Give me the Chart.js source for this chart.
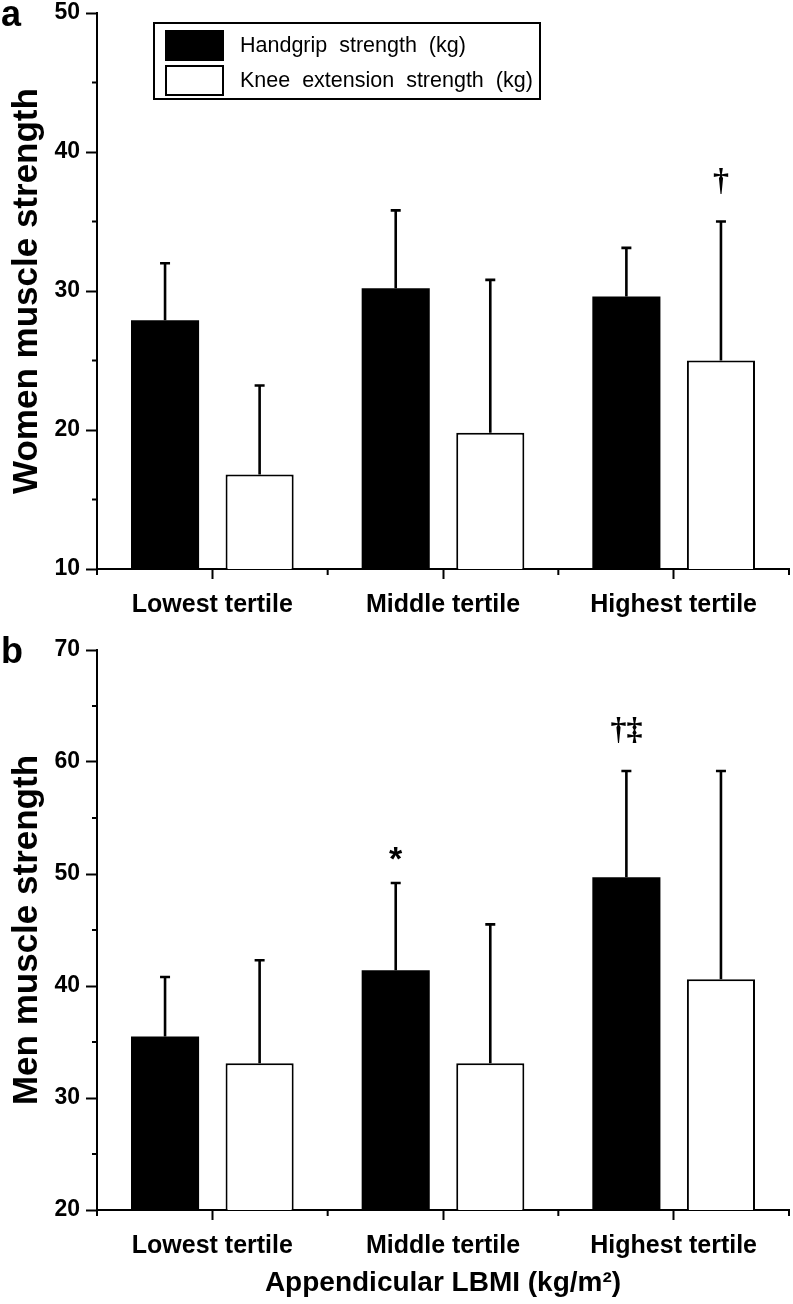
<!DOCTYPE html>
<html>
<head>
<meta charset="utf-8">
<script src="https://cdn.jsdelivr.net/npm/chart.js@4.4.1/dist/chart.umd.min.js"></script>
<style>
html, body { margin: 0; padding: 0; background: #fff; }
#wrap { position: relative; width: 793px; height: 1304px; overflow: hidden; }
canvas { position: absolute; left: 0; }
</style>
</head>
<body>
<div id="wrap">
  <canvas id="chartA" width="793" height="637" style="top:-7px"></canvas>
  <canvas id="chartB" width="793" height="674" style="top:630px"></canvas>
</div>
<script>
// ─── DATA ───
const tertiles = ['Lowest tertile', 'Middle tertile', 'Highest tertile'];
const seriesNames = ['Handgrip  strength  (kg)', 'Knee  extension  strength  (kg)'];

// women (panel a): means and SD (upper error only)
const womenGrip = [27.9, 30.2, 29.6];
const womenGripSD = [4.1, 5.6, 3.5];
const womenKnee = [16.8, 19.8, 25.0];
const womenKneeSD = [6.4, 11.0, 10.0];
const womenGripMarks = ['', '', ''];
const womenKneeMarks = ['', '', '†'];

// men (panel b)
const menGrip = [35.5, 41.4, 49.7];
const menGripSD = [5.3, 7.8, 9.5];
const menKnee = [33.1, 33.1, 40.6];
const menKneeSD = [9.2, 12.4, 18.6];
const menGripMarks = ['', '*', '†‡'];
const menKneeMarks = ['', '', ''];

const womenTicks = [10, 50, 10];   // min, max, step
const menTicks = [20, 70, 10];

const BOLD = "'Liberation Sans', Arial, sans-serif";
const REG = "'Liberation Sans', Arial, sans-serif";

// ─── PLUGINS ───
const errorBars = {
    id: 'errorBars',
    afterDatasetsDraw(chart) {
        const ctx = chart.ctx;
        const y = chart.scales.y;
        chart.data.datasets.forEach((ds, di) => {
            const meta = chart.getDatasetMeta(di);
            meta.data.forEach((bar, i) => {
                const top = y.getPixelForValue(ds.data[i] + ds.sd[i]);
                ctx.save();
                ctx.strokeStyle = '#000';
                ctx.lineWidth = 2.6;
                ctx.beginPath();
                ctx.moveTo(bar.x, bar.y);
                ctx.lineTo(bar.x, top);
                ctx.moveTo(bar.x - 5, top);
                ctx.lineTo(bar.x + 5, top);
                ctx.stroke();
                if (ds.marks[i]) {
                    ctx.fillStyle = '#000';
                    ctx.textAlign = 'center';
                    ctx.textBaseline = 'middle';
                    const star = ds.marks[i] === '*';
                    ctx.font = star ? "bold 34px 'Liberation Sans', sans-serif" : "bold 32px 'Liberation Serif', serif";
                    ctx.fillText(ds.marks[i], bar.x, top - (star ? 22 : 40));
                }
                ctx.restore();
            });
        });
    }
};

const minorTicks = {
    id: 'minorTicks',
    afterDraw(chart) {
        const ctx = chart.ctx;
        const x = chart.scales.x, y = chart.scales.y;
        ctx.save();
        ctx.strokeStyle = '#000';
        ctx.lineWidth = 2;
        ctx.beginPath();
        for (let v = y.min + 5; v < y.max; v += 10) {
            const py = y.getPixelForValue(v);
            ctx.moveTo(y.right - 5, py);
            ctx.lineTo(y.right, py);
        }
        for (let i = 0; i <= x.ticks.length; i++) {
            const px = x.getPixelForValue(i - 0.5);
            ctx.moveTo(px, x.top);
            ctx.lineTo(px, x.top + 6);
        }
        ctx.stroke();
        // panel letter
        const o = chart.options.plugins.minorTicks;
        ctx.fillStyle = '#000';
        ctx.font = "bold 36px 'Liberation Sans', sans-serif";
        ctx.textBaseline = 'alphabetic';
        ctx.textAlign = 'left';
        ctx.fillText(o.letter, 1, o.letterY);
        ctx.restore();
    }
};

const boxLegend = {
    id: 'boxLegend',
    afterDraw(chart, args, o) {
        if (!o.show) return;
        const ctx = chart.ctx;
        const dy = o.dy;
        ctx.save();
        ctx.strokeStyle = '#000';
        ctx.lineWidth = 2;
        ctx.strokeRect(154, 23 + dy, 386, 76);
        chart.data.datasets.forEach((ds, i) => {
            const ty = 31 + dy + i * 35;
            ctx.fillStyle = ds.backgroundColor;
            ctx.fillRect(166, ty, 57, 29);
            ctx.strokeRect(166, ty, 57, 29);
            ctx.fillStyle = '#000';
            ctx.font = "21.5px " + REG;
            ctx.textBaseline = 'middle';
            ctx.fillText(ds.label, 240, ty + 15);
        });
        ctx.restore();
    }
};

// ─── CHART BUILDER ───
function makeChart(id, grip, gripSD, gripMarks, knee, kneeSD, kneeMarks, ticks, opts) {
    const ctx = document.getElementById(id).getContext('2d');
    return new Chart(ctx, {
        type: 'bar',
        data: {
            labels: tertiles,
            datasets: [
                {
                    label: seriesNames[0],
                    data: grip, sd: gripSD, marks: gripMarks,
                    backgroundColor: '#000', borderColor: '#000', borderWidth: 0,
                    categoryPercentage: 0.82, barPercentage: 0.72
                },
                {
                    label: seriesNames[1],
                    data: knee, sd: kneeSD, marks: kneeMarks,
                    backgroundColor: '#fff', borderColor: '#000', borderWidth: 2,
                    borderSkipped: 'bottom',
                    categoryPercentage: 0.82, barPercentage: 0.72
                }
            ]
        },
        options: {
            responsive: false,
            animation: false,
            layout: { padding: { left: 0, right: 4, top: opts.top, bottom: 0 } },
            plugins: {
                legend: { display: false },
                tooltip: { enabled: false },
                minorTicks: { letter: opts.letter, letterY: opts.letterY },
                boxLegend: { show: opts.legend, dy: opts.dy || 0 }
            },
            scales: {
                x: {
                    offset: true,
                    grid: { display: true, offset: false, drawOnChartArea: false, drawTicks: true,
                            tickLength: 10, tickWidth: 2, tickColor: '#000' },
                    border: { display: true, color: '#000', width: 2 },
                    ticks: { color: '#000', font: { family: BOLD, weight: 'bold', size: 25 }, padding: 11, maxRotation: 0 },
                    title: { display: !!opts.xTitle, text: opts.xTitle || '', color: '#000',
                             font: { family: BOLD, weight: 'bold', size: 28 }, padding: { top: 0, bottom: 4 } },
                    afterFit: s => { s.height = opts.xHeight; }
                },
                y: {
                    min: ticks[0], max: ticks[1],
                    grid: { display: true, drawOnChartArea: false, drawTicks: true,
                            tickLength: 11, tickWidth: 2, tickColor: '#000' },
                    border: { display: true, color: '#000', width: 2 },
                    ticks: { stepSize: ticks[2], color: '#000', font: { family: REG, weight: 'bold', size: 23 }, padding: 6 },
                    title: { display: true, text: opts.yTitle, color: '#000',
                             font: { family: BOLD, weight: 'bold', size: 35 }, padding: { top: 6, bottom: 0 } },
                    afterFit: s => { s.width = 97; }
                }
            }
        },
        plugins: [errorBars, minorTicks, boxLegend]
    });
}

makeChart('chartA', womenGrip, womenGripSD, womenGripMarks, womenKnee, womenKneeSD, womenKneeMarks, womenTicks,
    { top: 20, xHeight: 61, yTitle: 'Women muscle strength', letter: 'a', letterY: 33, legend: true, dy: 7 });
makeChart('chartB', menGrip, menGripSD, menGripMarks, menKnee, menKneeSD, menKneeMarks, menTicks,
    { top: 20, xHeight: 94, yTitle: 'Men muscle strength', xTitle: 'Appendicular LBMI (kg/m²)', letter: 'b', letterY: 33, legend: false });
</script>
</body>
</html>
